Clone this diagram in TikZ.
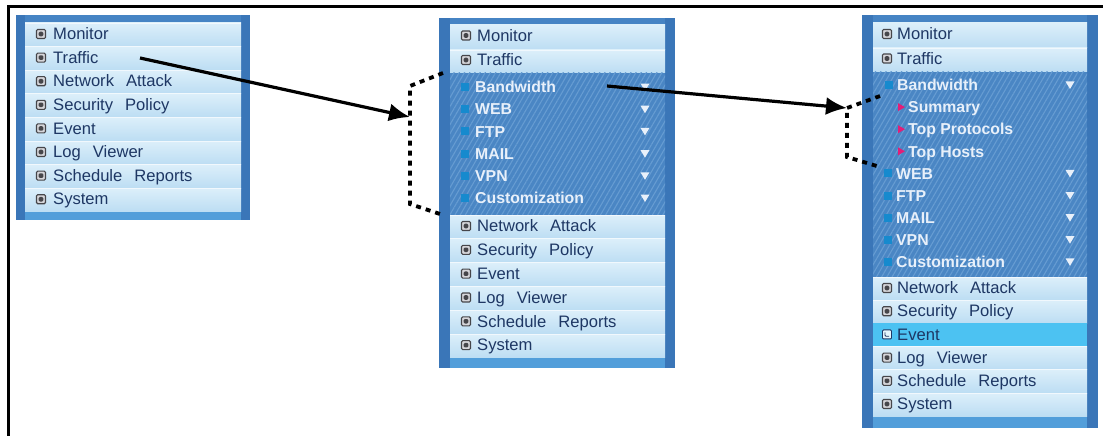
\documentclass[tikz,border=0pt]{standalone}
\usepackage{fontspec}
\setmainfont{Liberation Sans}
\usetikzlibrary{arrows.meta,patterns.meta}

\definecolor{frameblue}{RGB}{58,118,184}
\definecolor{topstrip}{RGB}{70,132,196}
\definecolor{bottomstrip}{RGB}{82,158,218}
\definecolor{rowtop}{RGB}{220,239,250}
\definecolor{rowbot}{RGB}{188,221,243}
\definecolor{darkrow}{RGB}{74,134,196}
\definecolor{darkstripe}{RGB}{102,156,210}
\definecolor{navytext}{RGB}{30,55,100}
\definecolor{icondark}{RGB}{70,70,74}
\definecolor{iconlight}{RGB}{214,214,218}
\definecolor{cyanbox}{RGB}{22,138,206}
\definecolor{subtri}{RGB}{226,30,120}
\definecolor{hilite}{RGB}{76,194,242}
\definecolor{whitetext}{RGB}{232,240,250}

% wide gap between the words of a menu entry
\newcommand\wsp{\hspace{0.72em}}

\begin{document}
\begin{tikzpicture}[x=1pt,y=-1pt,
  panel/.style={fill=frameblue},
  lrow/.style={top color=rowtop, bottom color=rowbot},
  rowsep/.style={draw=white, opacity=0.6, line width=0.8pt},
  darkpart/.style={fill=darkrow, postaction={pattern={Lines[angle=60,distance=4.5pt,line width=1.1pt]}, pattern color=darkstripe}},
  bul/.style={rectangle, rounded corners=1.2pt, draw=icondark, fill=iconlight, line width=1.1pt,
    minimum size=9pt, inner sep=0pt,
    path picture={\fill[icondark] ([shift={(-2.3pt,-2.3pt)}]path picture bounding box.center) rectangle ++(4.6pt,4.6pt);}},
  evbul/.style={rectangle, rounded corners=1pt, draw=navytext, fill=white!85!hilite, line width=0.9pt,
    minimum size=9pt, inner sep=0pt,
    path picture={\draw[navytext, line width=0.8pt] ([shift={(-2pt,2pt)}]path picture bounding box.center) -- ++(0pt,-3.8pt) -- ++(4pt,0pt);}},
  dbul/.style={rectangle, fill=cyanbox, minimum size=8pt, inner sep=0pt},
  itm/.style={anchor=west, inner sep=0pt, text height=11.5pt, text depth=0pt,
    font=\fontsize{16.6}{18}\selectfont, text=navytext},
  ditm/.style={itm, font=\bfseries\fontsize{15.8}{18}\selectfont, text=whitetext},
  dtri/.style={fill=whitetext},
  stri/.style={fill=subtri},
  arr/.style={line width=3.2pt, -{Latex[length=21pt,width=18pt]}},
  brk/.style={line width=3.8pt, dash pattern=on 5pt off 5pt}
]
\useasboundingbox (0,0) rectangle (1103,436);

% ---------- outer frame (left and top edges) ----------
\draw[line width=3pt] (8.5,436) -- (8.5,6.5) -- (1103,6.5);

% ========== panel A : collapsed menu ==========
\fill[panel] (16,15) rectangle (250,220);
\fill[topstrip] (25,15) rectangle (241,23);
\fill[bottomstrip] (25,212) rectangle (241,220);
\foreach \t [count=\i from 0] in {Monitor,Traffic,Network\wsp Attack,Security\wsp Policy,Event,Log\wsp Viewer,Schedule\wsp Reports,System} {
  \pgfmathsetmacro\ya{23+\i*23.6}
  \pgfmathsetmacro\yb{\ya+23.6}
  \pgfmathsetmacro\yc{\ya+11}
  \fill[lrow] (25,\ya) rectangle (241,\yb);
  \draw[rowsep] (25,\ya) -- (241,\ya);
  \node[bul] (pa-i\i) at (41,\yc) {};
  \node[itm] (pa-\i) at (53,\yc) {\t};
}

% ========== panel B : Traffic expanded ==========
\fill[panel] (439,18) rectangle (675,368);
\fill[topstrip] (450,18) rectangle (665,25);
\fill[bottomstrip] (450,358) rectangle (665,368);
% Monitor / Traffic
\fill[lrow] (450,25) rectangle (665,50);
\fill[lrow] (450,50) rectangle (665,73);
\draw[rowsep] (450,50) -- (665,50);
\node[bul] (pb-i0) at (466,35.5) {};
\node[itm] (pb-0) at (477,35.5) {Monitor};
\node[bul] (pb-i1) at (466,60) {};
\node[itm] (pb-1) at (477,60) {Traffic};
% Traffic sub menu
\fill[darkpart] (450,73) rectangle (665,215);
\foreach \t [count=\i from 0] in {Bandwidth,WEB,FTP,MAIL,VPN,Customization} {
  \pgfmathsetmacro\yc{87+\i*22.2}
  \node[dbul] (pb-di\i) at (465,\yc) {};
  \node[ditm] (pb-d\i) at (475,\yc) {\t};
  \fill[dtri] (640.5,\yc-3.5) -- (649.5,\yc-3.5) -- (645,\yc+4) -- cycle;
}
% remaining entries
\foreach \t [count=\i from 0] in {Network\wsp Attack,Security\wsp Policy,Event,Log\wsp Viewer,Schedule\wsp Reports,System} {
  \pgfmathsetmacro\ya{215+\i*23.83}
  \pgfmathsetmacro\yb{\ya+23.83}
  \pgfmathsetmacro\yc{\ya+11}
  \fill[lrow] (450,\ya) rectangle (665,\yb);
  \draw[rowsep] (450,\ya) -- (665,\ya);
  \node[bul] (pb-li\i) at (466,\yc) {};
  \node[itm] (pb-l\i) at (477,\yc) {\t};
}

% ========== panel C : Bandwidth expanded ==========
\fill[panel] (862,15) rectangle (1098,428);
\fill[topstrip] (873,15) rectangle (1087,23);
\fill[bottomstrip] (873,416) rectangle (1087,428);
\fill[lrow] (873,23) rectangle (1087,48);
\fill[lrow] (873,48) rectangle (1087,72);
\draw[rowsep] (873,48) -- (1087,48);
\node[bul] (pc-i0) at (887,34) {};
\node[itm] (pc-0) at (897,34) {Monitor};
\node[bul] (pc-i1) at (887,58.5) {};
\node[itm] (pc-1) at (897,58.5) {Traffic};
% Traffic sub menu with Bandwidth opened
\fill[darkpart] (873,72) rectangle (1087,277);
\node[dbul] (pc-di0) at (889,85) {};
\node[ditm] (pc-d0) at (897,85) {Bandwidth};
\fill[dtri] (1065.5,81.5) -- (1074.5,81.5) -- (1070,89) -- cycle;
\foreach \t [count=\i from 1] in {Summary,Top Protocols,Top Hosts} {
  \pgfmathsetmacro\yc{85+\i*22.1}
  \fill[stri] (898,\yc-4) -- (905,\yc) -- (898,\yc+4) -- cycle;
  \node[ditm] (pc-s\i) at (908,\yc) {\t};
}
\foreach \t [count=\i from 4] in {WEB,FTP,MAIL,VPN,Customization} {
  \pgfmathsetmacro\yc{85+\i*22.1}
  \node[dbul] (pc-di\i) at (888,\yc) {};
  \node[ditm] (pc-d\i) at (896,\yc) {\t};
  \fill[dtri] (1065.5,\yc-3.5) -- (1074.5,\yc-3.5) -- (1070,\yc+4) -- cycle;
}
% remaining entries, Event selected
\foreach \t [count=\i from 0] in {Network\wsp Attack,Security\wsp Policy,Event,Log\wsp Viewer,Schedule\wsp Reports,System} {
  \pgfmathsetmacro\ya{277+\i*23.2}
  \pgfmathsetmacro\yb{\ya+23.2}
  \pgfmathsetmacro\yc{\ya+11}
  \ifnum\i=2
    \fill[hilite] (873,\ya) rectangle (1087,\yb);
    \node[evbul] (pc-li\i) at (887,\yc) {};
  \else
    \fill[lrow] (873,\ya) rectangle (1087,\yb);
    \draw[rowsep] (873,\ya) -- (1087,\ya);
    \node[bul] (pc-li\i) at (887,\yc) {};
  \fi
  \node[itm] (pc-l\i) at (897,\yc) {\t};
}

% ---------- brackets marking the opened sub menus ----------
\coordinate (b1a) at (443,73);
\coordinate (b1b) at (410,86);
\coordinate (b1m) at (410,117);
\coordinate (b1c) at (410,204);
\coordinate (b1d) at (443,215);
\draw[brk] (b1a) -- (b1b) -- (b1c) -- (b1d);

\coordinate (b2a) at (880,96);
\coordinate (b2b) at (847,108);
\coordinate (b2c) at (847,157);
\coordinate (b2d) at (880,167);
\draw[brk] (b2a) -- (b2b) -- (b2c) -- (b2d);

% ---------- arrows ----------
\coordinate (a1s) at (140,58);
\coordinate (a2s) at (607,86);
\draw[arr] (a1s) -- (b1m);
\draw[arr] (a2s) -- (b2b);
\end{tikzpicture}
\end{document}
